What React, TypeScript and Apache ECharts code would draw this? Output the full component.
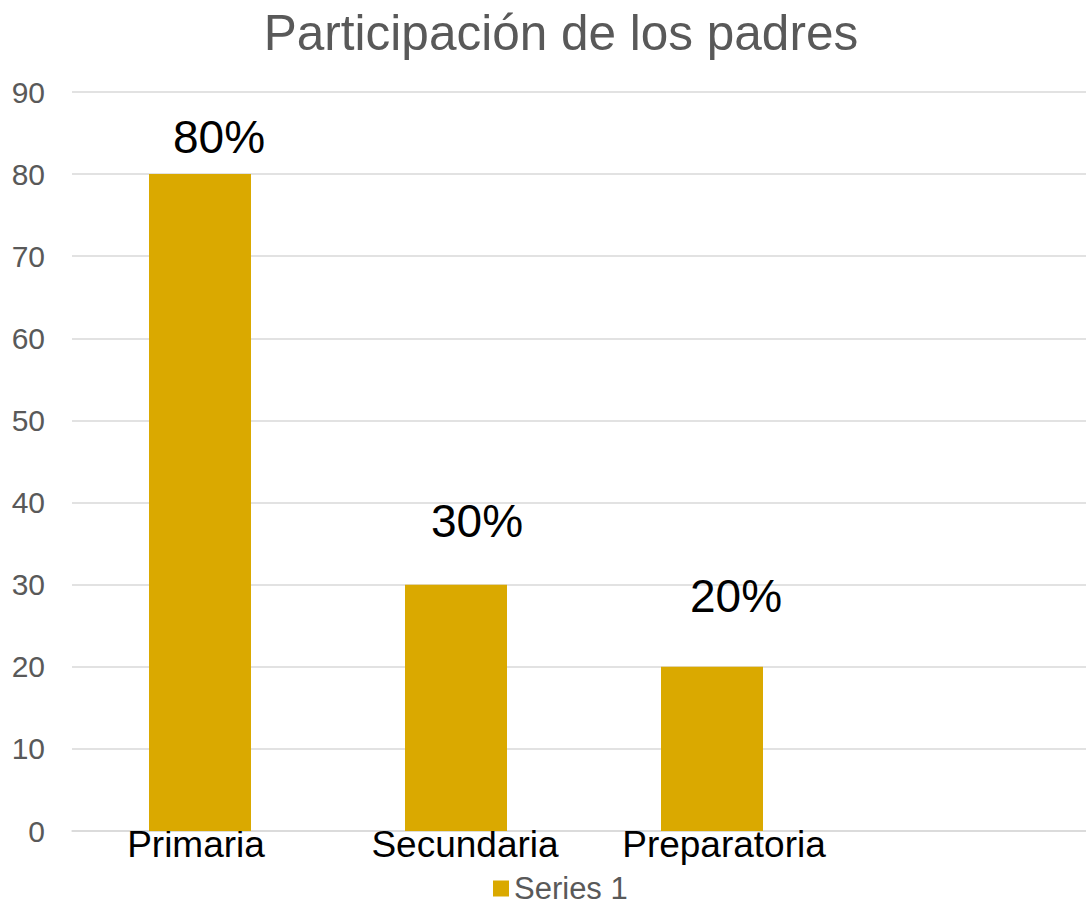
import React, { useEffect, useRef } from "react";
import * as echarts from "echarts";

const categories = ["Primaria", "Secundaria", "Preparatoria", ""];
const values: (number | null)[] = [80, 30, 20, null];
const seriesName = "Series 1";
const titleText = "Participación de los padres";
// manual label displacement (as in the reference), [dx, dy] in px
const labelOffsets: [number, number][] = [[19, 0], [21, -27], [24, -34], [0, 0]];
// category label padding [top, right, bottom, left] to mimic reference's placement
const catPadding: number[][] = [[0, 8, 0, 0], [0, 0, 0, 18], [0, 0, 0, 24], [0, 0, 0, 0]];

export default function App() {
  const ref = useRef<HTMLDivElement>(null);
  useEffect(() => {
    if (!ref.current) return;
    const chart = echarts.init(ref.current, null, { renderer: "svg" });
    const font = "'Liberation Sans', Arial, sans-serif";
    chart.setOption({
      animation: false,
      textStyle: { fontFamily: font },
      title: {
        text: titleText,
        left: 556,
        textAlign: "center",
        top: 2,
        textStyle: { fontSize: 49.5, fontWeight: "normal", color: "#595959", fontFamily: font },
      },
      legend: {
        data: [seriesName],
        left: 493,
        top: 873,
        padding: 0,
        icon: "rect",
        itemWidth: 16,
        itemHeight: 16,
        itemGap: 10,
        textStyle: { fontSize: 31, lineHeight: 26, color: "#595959", fontFamily: font },
      },
      grid: { left: 72, width: 1024, top: 92, bottom: 73, containLabel: false },
      xAxis: {
        type: "category",
        data: categories.map((c, i) => ({ value: c, textStyle: { padding: catPadding[i] } })),
        axisLine: { show: true, lineStyle: { color: "#d9d9d9", width: 1.5 } },
        axisTick: { show: false },
        axisLabel: { fontSize: 37, color: "#000", margin: -5, fontFamily: font, interval: 0 },
      },
      yAxis: {
        type: "value",
        min: 0,
        max: 90,
        interval: 10,
        axisLine: { show: false },
        axisTick: { show: false },
        axisLabel: { fontSize: 30, color: "#595959", margin: 27, fontFamily: font },
        splitLine: { lineStyle: { color: "#d9d9d9", width: 1.5 } },
      },
      series: [
        {
          name: seriesName,
          type: "bar",
          data: values.map((v, i) => ({ value: v, label: { offset: labelOffsets[i] } })),
          barWidth: 102,
          itemStyle: { color: "#DAA900" },
          label: {
            show: true,
            position: "top",
            distance: 14,
            formatter: "{c}%",
            fontSize: 46,
            color: "#000",
            fontFamily: font,
          },
        },
      ],
    });
    return () => chart.dispose();
  }, []);
  return (
    <div
      style={{
        position: "absolute",
        left: 0,
        top: 0,
        width: 1086,
        height: 904,
        overflow: "hidden",
        background: "#fff",
      }}
    >
      <div ref={ref} style={{ width: 1100, height: 904 }} />
    </div>
  );
}
